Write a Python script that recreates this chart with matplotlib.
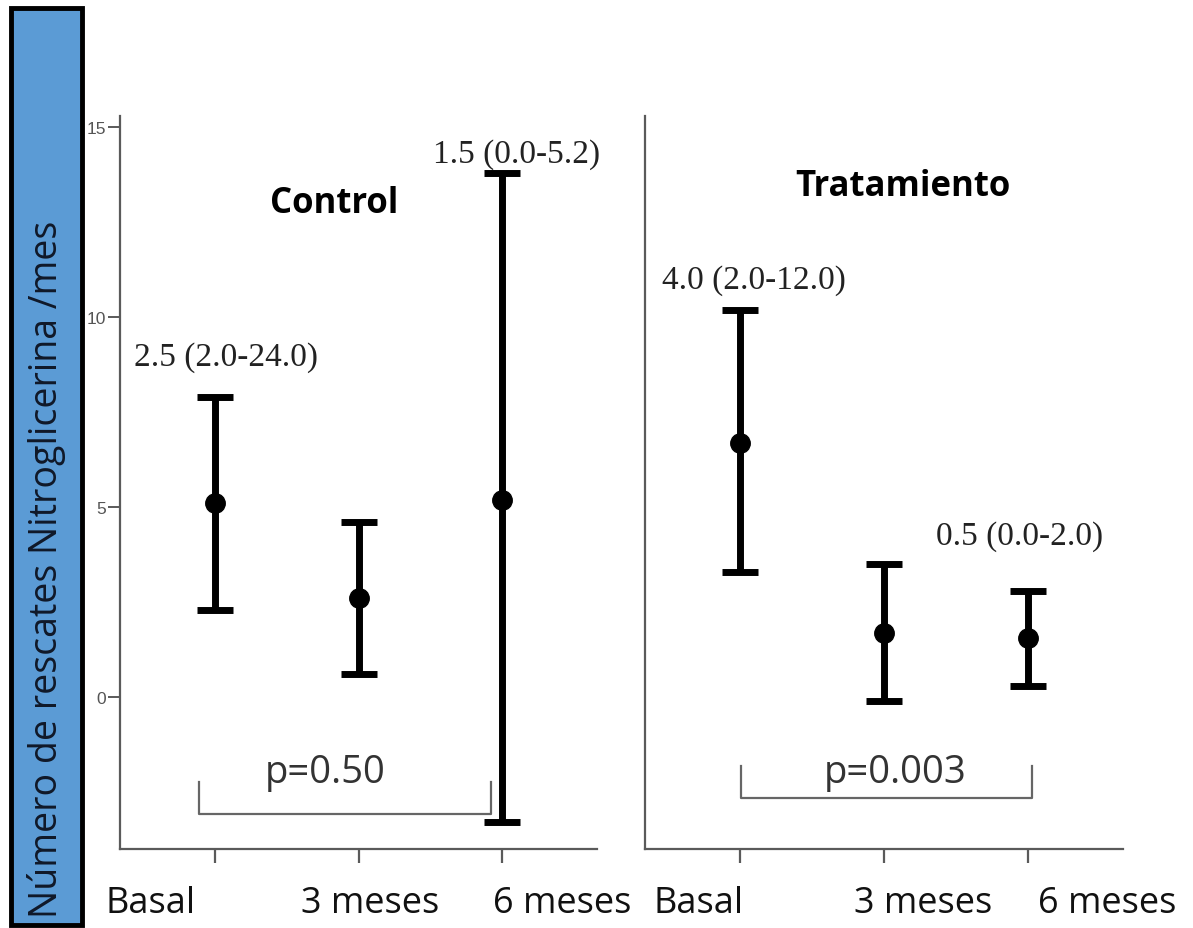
import matplotlib
matplotlib.use("Agg")
import matplotlib.pyplot as plt
from matplotlib.patches import Rectangle

# datos (media e intervalo)
categorias = ["Basal", "3 meses", "6 meses"]
control_media = [5.1, 2.6, 5.2]
control_sup = [7.9, 4.6, 13.8]
control_inf = [2.3, 0.6, -3.3]
trat_media = [6.7, 1.7, 1.55]
trat_sup = [10.2, 3.5, 2.8]
trat_inf = [3.3, -0.1, 0.3]

control_notas = ["2.5 (2.0-24.0)", "", "1.5 (0.0-5.2)"]
trat_notas = ["4.0 (2.0-12.0)", "", "0.5 (0.0-2.0)"]
y_ticks = [0, 5, 10, 15]

W, H = 1193, 929
fig = plt.figure(figsize=(W / 100, H / 100), dpi=100)
fig.patch.set_facecolor("white")

sans = ["Open Sans", "DejaVu Sans"]
serif = ["Liberation Serif", "DejaVu Serif"]
gris = "#5a5a5a"


def panel(left_px, right_px, media, sup, inf, notas, nota_pos, titulo, titulo_pos,
          etiq_pos, bracket, p_txt, p_pos, show_y):
    ax = fig.add_axes([left_px / W, 1 - 850 / H, (right_px - left_px) / W, (850 - 117) / H])
    x = list(range(len(categorias)))
    yerr = [[m - l for m, l in zip(media, inf)], [s - m for m, s in zip(media, sup)]]
    ax.errorbar(x, media, yerr=yerr, fmt="o", color="black", ms=14,
                elinewidth=5, capsize=13, capthick=5)
    ax.set_xlim(-0.66, 2.66)
    ax.set_ylim(-4.0, 15.3)
    for s in ["top", "right"]:
        ax.spines[s].set_visible(False)
    for s in ["left", "bottom"]:
        ax.spines[s].set_color(gris)
        ax.spines[s].set_linewidth(1.6)
    ax.set_xticks(x)
    ax.set_xticklabels([])
    ax.tick_params(axis="x", length=10, width=1.6, color=gris)
    if show_y:
        ax.set_yticks(y_ticks)
        ax.set_yticklabels([str(t) for t in y_ticks], fontsize=12.5, color="#555555",
                           family=["Liberation Sans", "DejaVu Sans"])
        ax.tick_params(axis="y", length=9, width=1.4, color=gris, pad=1)
    else:
        ax.set_yticks([])
    # etiquetas de categoria desplazadas como en el original
    tr = ax.get_xaxis_transform()
    for cat, dx in zip(categorias, etiq_pos):
        ax.text(dx, -0.073, cat, transform=tr, ha="center", va="center",
                fontsize=26, family=sans, color="#111111")
    for xi, nota, (dx, yy) in zip(x, notas, nota_pos):
        if nota:
            ax.text(xi + dx, yy, nota, ha="center", va="center", fontsize=24,
                    family=serif, color="#222222")
    ax.text(titulo_pos[0], titulo_pos[1], titulo, ha="center", va="center",
            fontsize=25, fontweight="bold", family=sans, color="black")
    bx0, bx1, by0, by1 = bracket
    ax.plot([bx0, bx0, bx1, bx1], [by0, by1, by1, by0], color="#666666", lw=1.6,
            clip_on=False)
    ax.text(p_pos[0], p_pos[1], p_txt, ha="center", va="center", fontsize=27.5,
            family=sans, color="#333333")
    return ax


panel(120, 597, control_media, control_sup, control_inf, control_notas,
      [(0.08, 8.97), (0, 0), (0.10, 14.3)], "Control", (0.83, 13.0),
      [-0.45, 1.08, 2.42], (-0.11, 1.92, -2.24, -3.08), "p=0.50", (0.77, -1.97), True)
panel(645, 1123, trat_media, trat_sup, trat_inf, trat_notas,
      [(0.10, 11.0), (0, 0), (-0.06, 4.26)], "Tratamiento", (1.13, 13.45),
      [-0.29, 1.27, 2.55], (0.01, 2.03, -1.82, -2.66), "p=0.003", (1.08, -1.97), False)

# recuadro azul con la etiqueta del eje y
fig.add_artist(Rectangle((11 / W, 3 / H), 71 / W, 1 - 12 / H,
                         transform=fig.transFigure, facecolor="#5b9bd5",
                         edgecolor="black", linewidth=3.5))
fig.text(47 / W, 1 - 569 / H, "Número de rescates Nitroglicerina /mes", rotation=90,
         ha="center", va="center", fontsize=27, family=sans, color="#101828")

fig.savefig("out.png", dpi=100)
